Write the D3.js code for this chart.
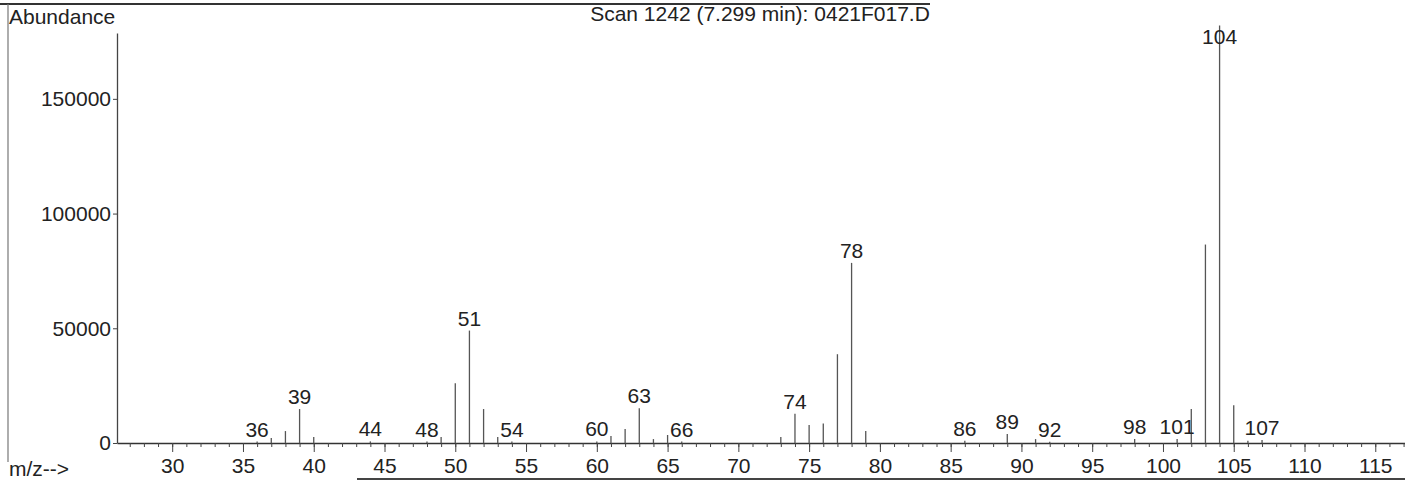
<!DOCTYPE html>
<html>
<head>
<meta charset="utf-8">
<script src="https://cdn.jsdelivr.net/npm/d3@7"></script>
<style>
  html, body { margin: 0; padding: 0; background: #fff; }
  svg { display: block; }
  text { font-family: "Liberation Sans", Arial, sans-serif; fill: #222; }
</style>
</head>
<body>
<svg id="chart" width="1405" height="481"></svg>
<script>
// Mass spectrum of one scan: m/z vs abundance
const titleText = "Scan 1242 (7.299 min): 0421F017.D";
const mzValues = [36, 37, 38, 39, 40, 44, 48, 49, 50, 51, 52, 53, 54, 60, 61, 62, 63, 64, 65, 66,
                  73, 74, 75, 76, 77, 78, 79, 86, 89, 91, 92, 98, 101, 102, 103, 104, 105, 106, 107];
const abundanceValues = [600, 2200, 5200, 14800, 2600, 700, 600, 2600, 26000, 49000, 14800, 2600, 600, 700, 3000, 6100, 15200, 1700, 3500, 600,
                         2600, 12800, 7800, 8500, 38700, 78500, 5200, 1000, 3900, 1700, 500, 1700, 1700, 14800, 86500, 182000, 16500, 1000, 1300];
const labeledMz = [36, 39, 44, 48, 51, 54, 60, 63, 66, 74, 78, 86, 89, 92, 98, 101, 104, 107];
const xMajorTicks = [30, 35, 40, 45, 50, 55, 60, 65, 70, 75, 80, 85, 90, 95, 100, 105, 110, 115];
const yTicks = [0, 50000, 100000, 150000];

const peaks = mzValues.map((mz, i) => ({ mz, v: abundanceValues[i] }));

const svg = d3.select("#chart");
const W = 1405;
const fontSize = 21;

const x = d3.scaleLinear().domain([26.1, 117.1]).range([117, 1405]);
const y = d3.scaleLinear().domain([0, 178700]).range([443, 33]);

// Report frame lines
svg.append("line").attr("x1", 0).attr("x2", 930).attr("y1", 4).attr("y2", 4)
  .attr("stroke", "#333").attr("stroke-width", 2);
svg.append("line").attr("x1", 8).attr("x2", 8).attr("y1", 4).attr("y2", 462)
  .attr("stroke", "#777").attr("stroke-width", 1.2);
svg.append("line").attr("x1", 357).attr("x2", W).attr("y1", 479).attr("y2", 479)
  .attr("stroke", "#444").attr("stroke-width", 2);

// Title and axis captions
svg.append("text").attr("x", 760).attr("y", 21).attr("text-anchor", "middle")
  .attr("font-size", fontSize).text(titleText);
svg.append("text").attr("x", 9).attr("y", 24).attr("font-size", fontSize).text("Abundance");
svg.append("text").attr("x", 9).attr("y", 476).attr("font-size", fontSize).text("m/z-->");

// Y axis
const yAxis = svg.append("g").attr("transform", "translate(117,0)")
  .call(d3.axisLeft(y).tickValues(yTicks).tickSize(4).tickSizeOuter(0).tickPadding(2).tickFormat(d3.format("d")));
yAxis.select(".domain").attr("stroke", "#444").attr("stroke-width", 1.3);
yAxis.selectAll(".tick line").attr("stroke", "#444");
yAxis.selectAll("text").attr("font-size", fontSize).attr("fill", "#222").attr("font-family", "Liberation Sans, Arial, sans-serif");

// X axis: minor ticks every unit, major ticks with labels every 5
const minorTicks = d3.range(27, 118);
const xMinor = svg.append("g").attr("transform", "translate(0,443)")
  .call(d3.axisBottom(x).tickValues(minorTicks).tickSize(4).tickSizeOuter(0).tickFormat(""));
xMinor.select(".domain").attr("stroke", "#333").attr("stroke-width", 1.6);
xMinor.selectAll(".tick line").attr("stroke", "#444");

const xMajor = svg.append("g").attr("transform", "translate(0,443)")
  .call(d3.axisBottom(x).tickValues(xMajorTicks).tickSize(9).tickSizeOuter(0).tickPadding(6));
xMajor.select(".domain").remove();
xMajor.selectAll(".tick line").attr("stroke", "#444");
xMajor.selectAll("text").attr("font-size", fontSize).attr("fill", "#222").attr("font-family", "Liberation Sans, Arial, sans-serif");

// Spectrum peaks
svg.append("g").selectAll("line").data(peaks).join("line")
  .attr("x1", d => x(d.mz)).attr("x2", d => x(d.mz))
  .attr("y1", y(0)).attr("y2", d => y(d.v))
  .attr("stroke", "#555").attr("stroke-width", 1.3);

// Peak labels
const labeled = peaks.filter(d => labeledMz.includes(d.mz));
svg.append("g").selectAll("text").data(labeled).join("text")
  .attr("x", d => x(d.mz))
  .attr("y", d => Math.max(y(d.v) - 5, 44))
  .attr("text-anchor", "middle").attr("font-size", fontSize)
  .text(d => d.mz);
</script>
</body>
</html>
